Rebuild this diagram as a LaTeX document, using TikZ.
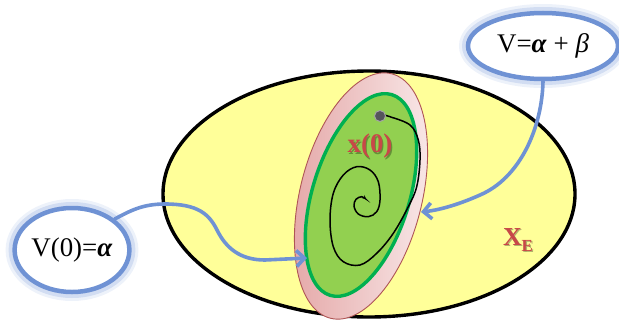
\documentclass[tikz,border=0pt]{standalone}
\usepackage{fontspec}
\setmainfont{Liberation Serif}
\usetikzlibrary{arrows.meta,shapes.geometric}
\definecolor{ylw}{RGB}{255,255,153}
\definecolor{pinkL}{RGB}{249,234,234}
\definecolor{pinkD}{RGB}{228,166,166}
\definecolor{pinkB}{RGB}{175,85,85}
\definecolor{grn}{RGB}{146,208,80}
\definecolor{grnB}{RGB}{0,176,80}
\definecolor{blu}{RGB}{111,146,212}
\definecolor{redT}{RGB}{200,72,72}
\definecolor{dotC}{RGB}{85,85,92}
\begin{document}
\begin{tikzpicture}[x=1bp,y=1bp,
  callout/.style={ellipse, draw=blu, line width=4.5bp, fill=white, inner sep=0pt,
     preaction={draw=blu, draw opacity=0.12, line width=18bp},
     preaction={draw=blu, draw opacity=0.22, line width=12bp},
     font=\fontsize{27}{30}\selectfont},
  bluarrow/.style={draw=blu, line width=3.6bp, line cap=round,
     -{Straight Barb[length=8bp,width=16bp,line width=3.6bp]}},
  redlabel/.style={text=redT, inner sep=0pt},
  shadowlabel/.style={text=black, text opacity=0.3, inner sep=0pt}
]
\useasboundingbox (0,0) rectangle (619,328);

% set X_E
\draw[fill=ylw, line width=3.4bp] (369,134) ellipse [x radius=206, y radius=123];

% outer pink region
\shade[rotate around={76:(361,132)}, left color=pinkD, right color=pinkL,
       draw=pinkB, line width=0.9bp] (361,132) ellipse [x radius=126, y radius=61];

% green region
\draw[fill=grn, draw=grnB, line width=3.4bp, rotate around={72.9:(361,133)}]
      (361,133) ellipse [x radius=105, y radius=48.5];

% trajectory
\draw[line width=1.5bp, -{Stealth[length=4bp,width=4bp]}] plot[smooth, tension=0.6] coordinates {
  (383,213) (390,211.3) (410,203) (418.3,188) (420,168) (416.7,141.3) (408.3,121.3)
  (393.3,94.7) (376.7,74.7) (360,63) (343.3,66.3) (333.3,81.3) (330,108)
  (333.3,134.7) (343.3,153) (356.7,161.3) (370,158) (378.3,146.3) (380,128)
  (376.7,116.3) (368.3,111.3) (358.3,114) (354,122) (356,128.7) (361.7,131.3) (366,128.7)};

% initial point
\fill[dotC, draw=gray!70, line width=0.9bp] (380,212) circle (5.5);

% labels
\node[shadowlabel, font=\fontsize{27}{27}\selectfont\bfseries] (xlabsh) at (371.2,180.3) {x(0)};
\node[redlabel, font=\fontsize{27}{27}\selectfont\bfseries] (xlab) at (370,181.5) {x(0)};
\node[shadowlabel, font=\fontsize{26}{26}\selectfont\bfseries] (xesh) at (519.2,86.8)
   {X\raisebox{-6bp}{\fontsize{17}{17}\selectfont E}};
\node[redlabel, font=\fontsize{26}{26}\selectfont\bfseries] (xe) at (518,88)
   {X\raisebox{-6bp}{\fontsize{17}{17}\selectfont E}};

% callouts
\node[callout, minimum width=114bp, minimum height=84bp] (lc) at (72,78)
   {V(0)=\textbf{\textit{α}}};
\node[callout, minimum width=150bp, minimum height=66bp] (rc) at (543,282)
   {V=\textbf{\textit{α}} + \textit{β}};

% arrow end points
\coordinate (tipL) at (307,70);
\coordinate (tipR) at (421,116);

% arrows
\draw[bluarrow] (lc.36) .. controls (130,117) and (142,124) .. (165,124)
   .. controls (198,124) and (209,114) .. (217,98)
   .. controls (226,80) and (240,68) .. (265,68) -- (tipL);
\draw[bluarrow] (rc.south) .. controls (542,200) and (520,150) .. (480,133)
   .. controls (460,124) and (440,118) .. (tipR);
\end{tikzpicture}
\end{document}
